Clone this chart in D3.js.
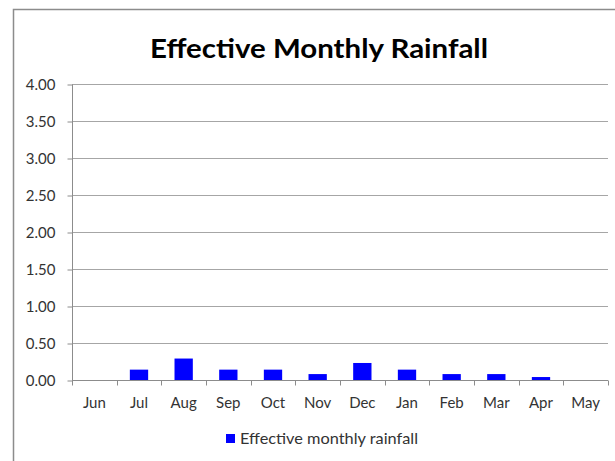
<!DOCTYPE html>
<html><head><meta charset="utf-8">
<script src="https://cdn.jsdelivr.net/npm/d3@7"></script>
<style>html,body{margin:0;padding:0;background:#fff;}svg{display:block;}</style>
</head><body>
<svg id="chart" width="615" height="461"></svg>
<script>
const months = ["Jun","Jul","Aug","Sep","Oct","Nov","Dec","Jan","Feb","Mar","Apr","May"];
const rainfall = [0, 0.14, 0.29, 0.14, 0.14, 0.08, 0.23, 0.14, 0.08, 0.08, 0.04, 0];
const yTicks = [0, 0.5, 1, 1.5, 2, 2.5, 3, 3.5, 4];
const seriesName = "Effective monthly rainfall";
const titleText = "Effective Monthly Rainfall";

const svg = d3.select("#chart");
const font = "Lato, 'Liberation Sans', sans-serif";
const plotL = 72, plotR = 608, plotT = 84, plotB = 380;

// outer frame
svg.append("rect").attr("x",13.5).attr("y",9.5).attr("width",700).attr("height",600)
  .attr("fill","#fff").attr("stroke","#8c8c8c").attr("stroke-width",1.5);

const x = d3.scaleBand().domain(months).range([plotL,plotR]).paddingInner(0.59).paddingOuter(0.295);
const xb = d3.scaleBand().domain(months).range([plotL,plotR]);
const y = d3.scaleLinear().domain([0,4]).range([plotB,plotT]);

// gridlines
svg.append("g").selectAll("line").data(yTicks.filter(d=>d>0)).join("line")
  .attr("x1",plotL).attr("x2",plotR)
  .attr("y1",d=>Math.round(y(d))+0.5).attr("y2",d=>Math.round(y(d))+0.5)
  .attr("stroke","#a6a6a6").attr("stroke-width",1);

// y axis
const yAxis = d3.axisLeft(y).tickValues(yTicks).tickFormat(d3.format(".2f")).tickSize(5).tickPadding(12);
const gy = svg.append("g").attr("transform",`translate(${plotL+0.5},0.5)`).call(yAxis);
gy.selectAll("text").attr("font-family",font).attr("font-size",15).attr("fill","#333");
gy.selectAll("line,path").attr("stroke","#8c8c8c");
gy.select(".domain").attr("d",`M0,${plotT}V${plotB}`);

// bars
svg.append("g").selectAll("rect").data(months.map((m,i)=>({m,v:rainfall[i]}))).join("rect")
  .attr("x",d=>x(d.m)).attr("width",x.bandwidth())
  .attr("y",d=>y(d.v)).attr("height",d=>y(0)-y(d.v))
  .attr("fill","#0000ff");

// x axis
const gx = svg.append("g").attr("transform",`translate(0,${plotB+0.5})`);
gx.append("line").attr("x1",plotL).attr("x2",plotR).attr("stroke","#8c8c8c");
gx.selectAll("line.t").data(months.map((m)=>xb(m)).concat([plotR])).join("line").attr("class","t")
  .attr("x1",d=>Math.round(d)+0.5).attr("x2",d=>Math.round(d)+0.5).attr("y1",0).attr("y2",5)
  .attr("stroke","#8c8c8c");
gx.selectAll("text").data(months).join("text")
  .attr("x",d=>xb(d)+xb.bandwidth()/2).attr("y",27.5)
  .attr("text-anchor","middle").attr("font-family",font).attr("font-size",15).attr("fill","#333")
  .text(d=>d);

// title
svg.append("text").attr("x",319).attr("y",57.5).attr("text-anchor","middle")
  .attr("font-family",font).attr("font-weight","bold").attr("font-size",27).attr("fill","#000")
  .attr("textLength",338).attr("lengthAdjust","spacingAndGlyphs")
  .text(titleText);

// legend
svg.append("rect").attr("x",226).attr("y",434).attr("width",9).attr("height",9).attr("fill","#0000ff");
svg.append("text").attr("x",240).attr("y",444).attr("font-family",font).attr("font-size",16).attr("fill","#333")
  .attr("textLength",178).attr("lengthAdjust","spacingAndGlyphs")
  .text(seriesName);
</script>
</body></html>
